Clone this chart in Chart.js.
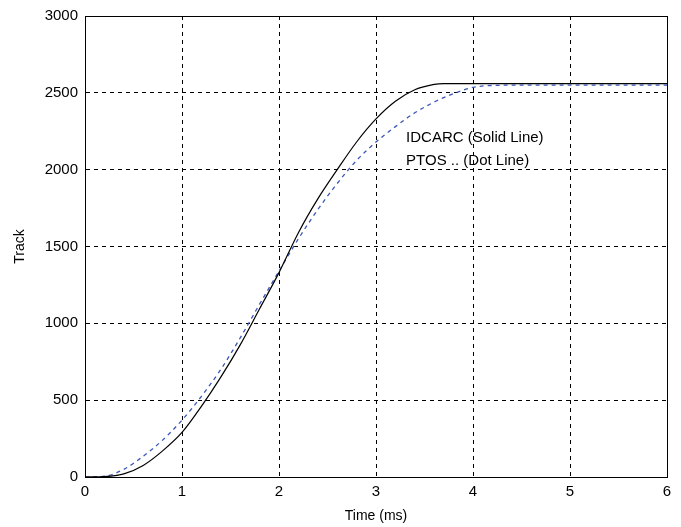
<!DOCTYPE html>
<html>
<head>
<meta charset="utf-8">
<script src="https://cdn.jsdelivr.net/npm/chart.js@4/dist/chart.umd.min.js"></script>
<style>
  html, body { margin: 0; padding: 0; background: #fff; }
  #wrap { width: 681px; height: 527px; }
</style>
</head>
<body>
<div id="wrap"><canvas id="trackChart"></canvas></div>
<script>
// time axis in ms, track count on y
const xTicks = [0, 1, 2, 3, 4, 5, 6];
const yTicks = [0, 500, 1000, 1500, 2000, 2500, 3000];

// IDCARC response (solid)
const idcarcTime  = [0, 0.2, 0.4, 0.6, 0.8, 1.0, 1.2, 1.4, 1.6, 1.8, 2.0, 2.2, 2.4, 2.6, 2.8, 3.0, 3.2, 3.4, 3.6, 3.7, 4.0, 5.0, 6.0];
const idcarcTrack = [0, 2, 20, 75, 170, 290, 460, 650, 860, 1095, 1330, 1590, 1810, 2000, 2180, 2330, 2445, 2520, 2555, 2560, 2560, 2560, 2560];

// PTOS response (dashed)
const ptosTime  = [0, 0.2, 0.4, 0.6, 0.8, 1.0, 1.2, 1.4, 1.6, 1.8, 2.0, 2.2, 2.4, 2.6, 2.8, 3.0, 3.2, 3.4, 3.6, 3.8, 4.0, 4.2, 4.5, 5.0, 6.0];
const ptosTrack = [0, 5, 50, 135, 240, 370, 525, 700, 905, 1125, 1340, 1550, 1740, 1910, 2060, 2180, 2280, 2370, 2440, 2495, 2535, 2548, 2550, 2550, 2550];

// in-plot text: [x, y, text]
const notes = [
  [3.31, 2210, "IDCARC (Solid Line)"],
  [3.31, 2060, "PTOS .. (Dot Line)"]
];

const FONT = "'Liberation Sans', Arial, sans-serif";

function pairs(xs, ys) {
  return xs.map((x, i) => ({ x: x, y: ys[i] }));
}

// solid box around the plot area plus the two text lines
const framePlugin = {
  id: "frame",
  afterDatasetsDraw(chart) {
    const { ctx, scales, chartArea: a } = chart;
    ctx.save();
    ctx.strokeStyle = "#000";
    ctx.lineWidth = 1;
    ctx.setLineDash([]);
    ctx.strokeRect(Math.round(a.left) + 0.5, Math.round(a.top) + 0.5,
      Math.round(a.right - a.left), Math.round(a.bottom - a.top));
    ctx.fillStyle = "#000";
    ctx.font = "15px " + FONT;
    ctx.textAlign = "left";
    ctx.textBaseline = "middle";
    notes.forEach(([x, y, t]) => {
      ctx.fillText(t, scales.x.getPixelForValue(x), scales.y.getPixelForValue(y));
    });
    ctx.restore();
  }
};

const gridOpts = { color: "#000", lineWidth: 1, drawTicks: false };
const borderOpts = { display: true, color: "#000", width: 1, dash: [4, 4] };

new Chart(document.getElementById("trackChart"), {
  type: "line",
  data: {
    datasets: [
      {
        label: "IDCARC",
        data: pairs(idcarcTime, idcarcTrack),
        borderColor: "#000",
        borderWidth: 1.2,
        pointRadius: 0,
        cubicInterpolationMode: "monotone",
        fill: false
      },
      {
        label: "PTOS",
        data: pairs(ptosTime, ptosTrack),
        borderColor: "#3a56b8",
        borderWidth: 1.3,
        borderDash: [4, 4],
        pointRadius: 0,
        cubicInterpolationMode: "monotone",
        fill: false
      }
    ]
  },
  options: {
    responsive: true,
    maintainAspectRatio: false,
    animation: false,
    layout: { padding: { top: 14, right: 14, left: 0, bottom: 0 }, autoPadding: false },
    plugins: { legend: { display: false }, tooltip: { enabled: false } },
    scales: {
      x: {
        type: "linear",
        min: 0,
        max: 6,
        afterBuildTicks: (s) => { s.ticks = xTicks.map(v => ({ value: v })); },
        afterFit: (s) => { s.height = 50; },
        grid: gridOpts,
        border: borderOpts,
        ticks: { color: "#000", font: { family: FONT, size: 15 }, padding: 6, maxRotation: 0,
                 callback: (v) => String(v) },
        title: { display: true, text: "Time (ms)", color: "#000", font: { family: FONT, size: 14 }, padding: { top: 0, bottom: 2 } }
      },
      y: {
        type: "linear",
        min: 0,
        max: 3000,
        afterBuildTicks: (s) => { s.ticks = yTicks.map(v => ({ value: v })); },
        afterFit: (s) => { s.width = 85; },
        grid: gridOpts,
        border: borderOpts,
        ticks: { color: "#000", font: { family: FONT, size: 15 }, padding: 7,
                 callback: (v) => String(v) },
        title: { display: true, text: "Track", color: "#000", font: { family: FONT, size: 14 }, padding: { top: 12, bottom: 0 } }
      }
    }
  },
  plugins: [framePlugin]
});
</script>
</body>
</html>
